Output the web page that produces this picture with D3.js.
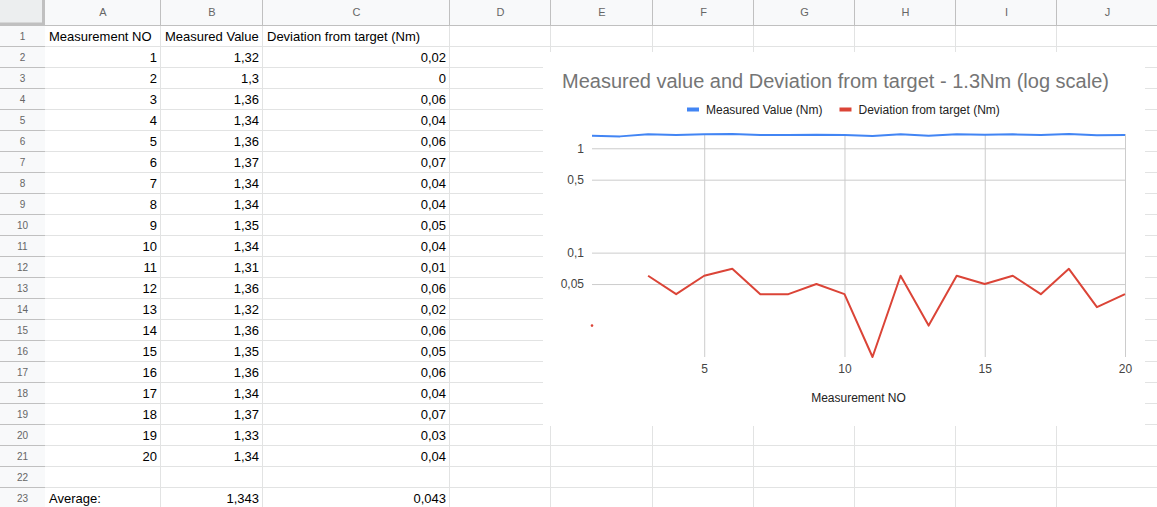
<!DOCTYPE html>
<html>
<head>
<meta charset="utf-8">
<script src="https://cdn.jsdelivr.net/npm/d3@7"></script>
<style>
body { margin: 0; background: #fff; }
svg { display: block; }
text { font-family: "Liberation Sans", Arial, sans-serif; }
</style>
</head>
<body>
<svg width="1157" height="507"></svg>
<script>
let measurementNo = [1, 2, 3, 4, 5, 6, 7, 8, 9, 10, 11, 12, 13, 14, 15, 16, 17, 18, 19, 20]
let measuredValue = [1.32, 1.3, 1.36, 1.34, 1.36, 1.37, 1.34, 1.34, 1.35, 1.34, 1.31, 1.36, 1.32, 1.36, 1.35, 1.36, 1.34, 1.37, 1.33, 1.34]
let deviation = [0.02, 0, 0.06, 0.04, 0.06, 0.07, 0.04, 0.04, 0.05, 0.04, 0.01, 0.06, 0.02, 0.06, 0.05, 0.06, 0.04, 0.07, 0.03, 0.04]
let headerRow = ['Measurement NO', 'Measured Value', 'Deviation from target (Nm)']
let averageLabel = 'Average:'
let columnLetters = ['A', 'B', 'C', 'D', 'E', 'F', 'G', 'H', 'I', 'J']
let seriesNames = ['Measured Value (Nm)', 'Deviation from target (Nm)']
let chartTitle = 'Measured value and Deviation from target - 1.3Nm (log scale)'
let xTitle = 'Measurement NO'
let yTicks = [1, 0.5, 0.1, 0.05]
let xTicks = [5, 10, 15, 20]

// sheet layout
let colEdges = [0, 45, 161, 263, 450, 551, 653, 754, 855, 956, 1057, 1158]
let headH = 25.5, rowH = 21, nRows = 23

let fmt = v => String(v).replace('.', ',')
let svg = d3.select('svg')

// ---------- spreadsheet ----------
let sheet = svg.append('g')
sheet.append('rect').attr('x', 0).attr('y', 0).attr('width', 1157).attr('height', headH).attr('fill', '#f8f9fa')
sheet.append('rect').attr('x', 0).attr('y', 0).attr('width', colEdges[1]).attr('height', 507).attr('fill', '#f8f9fa')

// body grid
for (let r = 1; r <= nRows; r++) {
    let y = headH + r * rowH
    sheet.append('line').attr('x1', colEdges[1]).attr('x2', 1157).attr('y1', y).attr('y2', y).attr('stroke', '#e2e3e3')
    sheet.append('line').attr('x1', 0).attr('x2', colEdges[1]).attr('y1', y).attr('y2', y).attr('stroke', '#c0c0c0')
    sheet.append('text').text(r)
        .attr('x', colEdges[1] / 2).attr('y', headH + (r - 0.5) * rowH + 3.5)
        .attr('text-anchor', 'middle').attr('font-size', 10).attr('fill', '#666')
}
colEdges.slice(2).forEach(x => {
    sheet.append('line').attr('x1', x - 0.5).attr('x2', x - 0.5).attr('y1', headH).attr('y2', 507).attr('stroke', '#e2e3e3')
    sheet.append('line').attr('x1', x - 0.5).attr('x2', x - 0.5).attr('y1', 0).attr('y2', headH).attr('stroke', '#c0c0c0')
})
columnLetters.forEach((c, i) => {
    sheet.append('text').text(c)
        .attr('x', (colEdges[i + 1] + colEdges[i + 2]) / 2).attr('y', 16)
        .attr('text-anchor', 'middle').attr('font-size', 11).attr('fill', '#666')
})
sheet.append('line').attr('x1', 0).attr('x2', 1157).attr('y1', headH).attr('y2', headH).attr('stroke', '#c0c0c0')
sheet.append('rect').attr('x', 0).attr('y', 0).attr('width', colEdges[1] - 2).attr('height', headH - 2).attr('fill', '#eceeef')
sheet.append('rect').attr('x', colEdges[1] - 3).attr('y', 0).attr('width', 3).attr('height', headH).attr('fill', '#c0c0c0')
sheet.append('rect').attr('x', 0).attr('y', headH - 3).attr('width', colEdges[1]).attr('height', 3).attr('fill', '#c0c0c0')

function cell(txt, col, row, align) {
    let y = headH + (row - 0.5) * rowH + 4.5
    let x = align === 'end' ? colEdges[col + 2] - 4 : colEdges[col + 1] + 4
    sheet.append('text').text(txt).attr('x', x).attr('y', y)
        .attr('text-anchor', align).attr('font-size', 13).attr('fill', '#000')
}
headerRow.forEach((h, i) => cell(h, i, 1, 'start'))
measurementNo.forEach((n, i) => {
    cell(n, 0, i + 2, 'end')
    cell(fmt(measuredValue[i]), 1, i + 2, 'end')
    cell(fmt(deviation[i]), 2, i + 2, 'end')
})
cell(averageLabel, 0, nRows, 'start')
cell(fmt(+d3.mean(measuredValue).toFixed(3)), 1, nRows, 'end')
cell(fmt(+d3.mean(deviation).toFixed(3)), 2, nRows, 'end')

// ---------- chart ----------
let chart = svg.append('g')
chart.append('rect').attr('x', 543).attr('y', 52).attr('width', 602).attr('height', 374).attr('fill', '#fff')

let plotL = 592, plotR = 1125, plotT = 134, plotB = 357
let positives = measuredValue.concat(deviation).filter(v => v > 0)
let x = d3.scaleLinear().domain(d3.extent(measurementNo)).range([plotL, plotR])
let y = d3.scaleLog().domain(d3.extent(positives)).range([plotB, plotT])

chart.append('g').attr('transform', `translate(${plotL},0)`)
    .call(d3.axisLeft(y).tickValues(yTicks).tickFormat(fmt).tickSize(-(plotR - plotL)).tickPadding(8))
chart.append('g').attr('transform', `translate(0,${plotB})`)
    .call(d3.axisBottom(x).tickValues(xTicks).tickSize(-(plotB - plotT)).tickPadding(7))
chart.selectAll('.domain').remove()
chart.selectAll('.tick line').attr('stroke', '#ccc')
chart.selectAll('.tick text').attr('fill', '#444').attr('font-size', 12)
    .attr('font-family', '"Liberation Sans", Arial, sans-serif')

let colors = ['#4285f4', '#db4437']
let series = [measuredValue, deviation]
let line = d3.line()
    .defined(d => d > 0)
    .x((d, i) => x(measurementNo[i]))
    .y(d => y(d))

series.forEach((s, k) => {
    chart.append('path').attr('d', line(s)).attr('fill', 'none')
        .attr('stroke', colors[k]).attr('stroke-width', 2).attr('stroke-linejoin', 'round')
    // isolated points still get a tiny mark
    s.forEach((v, i) => {
        let prev = s[i - 1] > 0, next = s[i + 1] > 0
        if (v > 0 && !prev && !next) {
            chart.append('circle').attr('cx', x(measurementNo[i])).attr('cy', y(v))
                .attr('r', 1.3).attr('fill', colors[k])
        }
    })
})

chart.append('text').text(chartTitle)
    .attr('x', 562).attr('y', 88).attr('font-size', 20).attr('fill', '#757575')

chart.append('text').text(xTitle)
    .attr('x', (plotL + plotR) / 2).attr('y', 402).attr('text-anchor', 'middle')
    .attr('font-size', 12).attr('fill', '#222')

let lx = 687
seriesNames.forEach((n, k) => {
    chart.append('rect').attr('x', lx).attr('y', 107.5).attr('width', 12).attr('height', 4).attr('fill', colors[k])
    let t = chart.append('text').text(n).attr('x', lx + 19).attr('y', 113.5)
        .attr('font-size', 12).attr('fill', '#222')
    lx += 19 + t.node().getComputedTextLength() + 17
})
</script>
</body>
</html>
